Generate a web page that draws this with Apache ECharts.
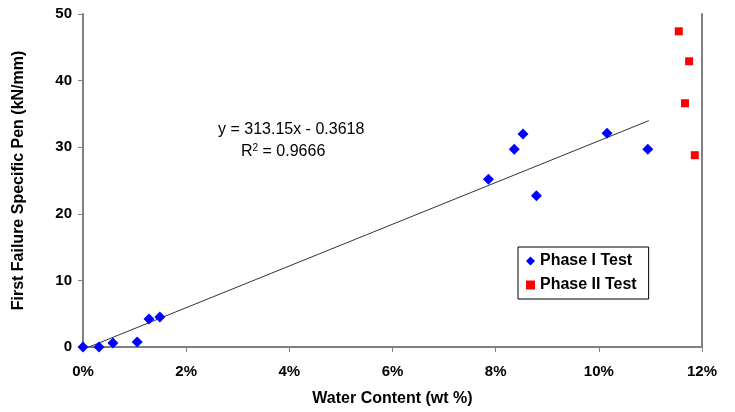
<!DOCTYPE html>
<html>
<head>
<meta charset="utf-8">
<script src="https://cdn.jsdelivr.net/npm/echarts@6/dist/echarts.min.js"></script>
<style>
  html, body { margin: 0; padding: 0; background: #fff; }
  #chart { width: 735px; height: 412px; }
</style>
</head>
<body>
<div id="chart"></div>
<script>
// water content as a fraction (axis shows it as %), pen in kN/mm
const phase1Water = [0, 0.0027, 0.0031, 0.0058, 0.0105, 0.0128, 0.0149, 0.0786, 0.0836, 0.0853, 0.0879, 0.1016, 0.1095];
const phase1Pen = [0, -0.15, 0, 0.6, 0.75, 4.2, 4.5, 25.2, 29.7, 32.0, 22.7, 32.1, 29.7];
const phase2Water = [0.1155, 0.1175, 0.1167, 0.1186];
const phase2Pen = [47.4, 42.9, 36.6, 28.8];

// linear trend fitted to phase I (from the reference label)
const trendSlope = 313.15;
const trendIntercept = -0.3618;
const trendRange = [0, 0.1097];

const font = "Liberation Sans, Arial, sans-serif";

const chart = echarts.init(document.getElementById("chart"));

const option = {
  animation: false,
  backgroundColor: "#fff",
  grid: { left: 83, right: 33, top: 14, bottom: 65 },
  legend: {
    orient: "vertical",
    left: 518,
    top: 247,
    padding: [6, 12, 6, 8],
    itemGap: 8,
    itemWidth: 9,
    itemHeight: 9,
    borderColor: "#000",
    borderWidth: 1,
    backgroundColor: "#fff",
    textStyle: { fontFamily: font, fontSize: 16, fontWeight: "bold", color: "#000" },
    data: [
      { name: "Phase I Test", icon: "diamond" },
      { name: "Phase II Test", icon: "rect" },
    ],
  },
  xAxis: {
    type: "value",
    min: 0,
    max: 0.12,
    interval: 0.02,
    name: "Water Content (wt %)",
    nameLocation: "middle",
    nameGap: 44,
    nameTextStyle: { fontFamily: font, fontSize: 16, fontWeight: "bold", color: "#000" },
    splitLine: { show: false },
    axisLine: { lineStyle: { color: "#808080", width: 2 } },
    axisTick: { show: true, length: 5, lineStyle: { color: "#808080" } },
    axisLabel: {
      fontFamily: font, fontSize: 15, fontWeight: "bold", color: "#000", margin: 17,
      formatter: (v) => Math.round(v * 100) + "%",
    },
  },
  yAxis: [
    {
      type: "value",
      min: 0,
      max: 50,
      interval: 10,
      name: "First Failure Specific Pen (kN/mm)",
      nameLocation: "middle",
      nameGap: 56,
      nameTextStyle: { fontFamily: font, fontSize: 16, fontWeight: "bold", color: "#000" },
      splitLine: { show: false },
      axisLine: { show: true, lineStyle: { color: "#808080", width: 2 } },
      axisTick: { show: true, length: 5, lineStyle: { color: "#808080" } },
      axisLabel: { fontFamily: font, fontSize: 15, fontWeight: "bold", color: "#000", margin: 11 },
    },
    {
      type: "value",
      min: 0,
      max: 50,
      position: "right",
      splitLine: { show: false },
      axisLine: { show: true, lineStyle: { color: "#808080", width: 2 } },
      axisTick: { show: false },
      axisLabel: { show: false },
    },
  ],
  series: [
    {
      name: "Trend",
      type: "line",
      data: trendRange.map((x) => [x, trendSlope * x + trendIntercept]),
      symbol: "none",
      lineStyle: { color: "#333", width: 1 },
      silent: true,
      z: 1,
    },
    {
      name: "Phase I Test",
      type: "scatter",
      symbol: "diamond",
      symbolSize: 11,
      itemStyle: { color: "#0000ff", opacity: 1 },
      data: phase1Water.map((x, i) => [x, phase1Pen[i]]),
      z: 3,
    },
    {
      name: "Phase II Test",
      type: "scatter",
      symbol: "rect",
      symbolSize: 8,
      itemStyle: { color: "#ff0000", opacity: 1 },
      data: phase2Water.map((x, i) => [x, phase2Pen[i]]),
      z: 3,
    },
  ],
  graphic: [
    {
      type: "text",
      left: 218,
      top: 122,
      style: {
        text: "y = 313.15x - 0.3618",
        font: "16px " + font,
        fill: "#000",
      },
    },
    {
      type: "text",
      left: 241,
      top: 143,
      style: {
        text: "R{sup|2} = 0.9666",
        font: "16px " + font,
        fill: "#000",
        rich: {
          sup: { fontSize: 10, verticalAlign: "top", padding: [0, 0, 8, 0], fontFamily: font },
        },
      },
    },
  ],
};

chart.setOption(option);
</script>
</body>
</html>
